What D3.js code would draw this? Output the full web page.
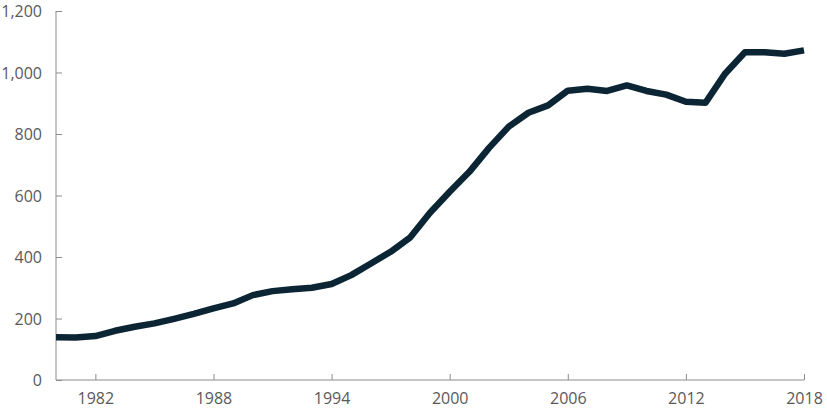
<!DOCTYPE html>
<html>
<head>
<meta charset="utf-8">
<script src="https://cdn.jsdelivr.net/npm/d3@7"></script>
<style>
  body { margin: 0; background: #fff; }
  .axis text { font-family: "Open Sans", sans-serif; font-size: 16px; fill: #595959; }
  .axis path, .axis line { stroke: #8c8c8c; }
</style>
</head>
<body>
<div id="graph-container"></div>
<script>
// data
var years = d3.range(1980, 2019);
var values = [139, 138, 143, 160, 173, 184, 199, 215, 233, 249,
              276, 289, 295, 300, 312, 341, 379, 417, 464, 544,
              612, 677, 755, 824, 869, 893, 941, 947, 940, 958,
              940, 928, 905, 902, 997, 1066, 1066, 1061, 1072];
var x_ticks = [1982, 1988, 1994, 2000, 2006, 2012, 2018];
var y_ticks = [0, 200, 400, 600, 800, 1000, 1200];

var w = 827, h = 417;
var margin = {top: 11, right: 23, bottom: 37, left: 56};

var svg = d3.select('#graph-container').append('svg').attr('width', w).attr('height', h);

var x = d3.scaleLinear().domain([1980, 2018]).range([margin.left, w - margin.right]);
var y = d3.scaleLinear().domain([0, 1200]).range([h - margin.bottom, margin.top]);

// y axis, ticks pointing inward
var y_axis = d3.axisRight(y).tickValues(y_ticks).tickSize(6).tickFormat(d3.format(','));
var gy = svg.append('g').attr('class', 'axis')
            .attr('transform', `translate(${margin.left},0)`)
            .call(y_axis);
gy.select('.domain').attr('d', `M0,${y(1200)}V${y(0)}`);
gy.selectAll('text').attr('x', -14).style('text-anchor', 'end').attr('dy', '0.35em');

// x axis, ticks pointing up
var x_axis = d3.axisBottom(x).tickValues(x_ticks).tickSize(-6).tickFormat(d3.format('d'));
var gx = svg.append('g').attr('class', 'axis')
            .attr('transform', `translate(0,${y(0)})`)
            .call(x_axis);
gx.select('.domain').attr('d', `M${x(1980)},0H${x(2018)}`);
gx.selectAll('text').attr('y', 13).attr('dy', '0.71em');

var line = d3.line().x((d, i) => x(years[i])).y(d => y(d));

svg.append('path')
   .datum(values)
   .attr('d', line)
   .attr('fill', 'none')
   .attr('stroke', '#0b2535')
   .attr('stroke-width', 6.5)
   .attr('stroke-linejoin', 'round');
</script>
</body>
</html>
